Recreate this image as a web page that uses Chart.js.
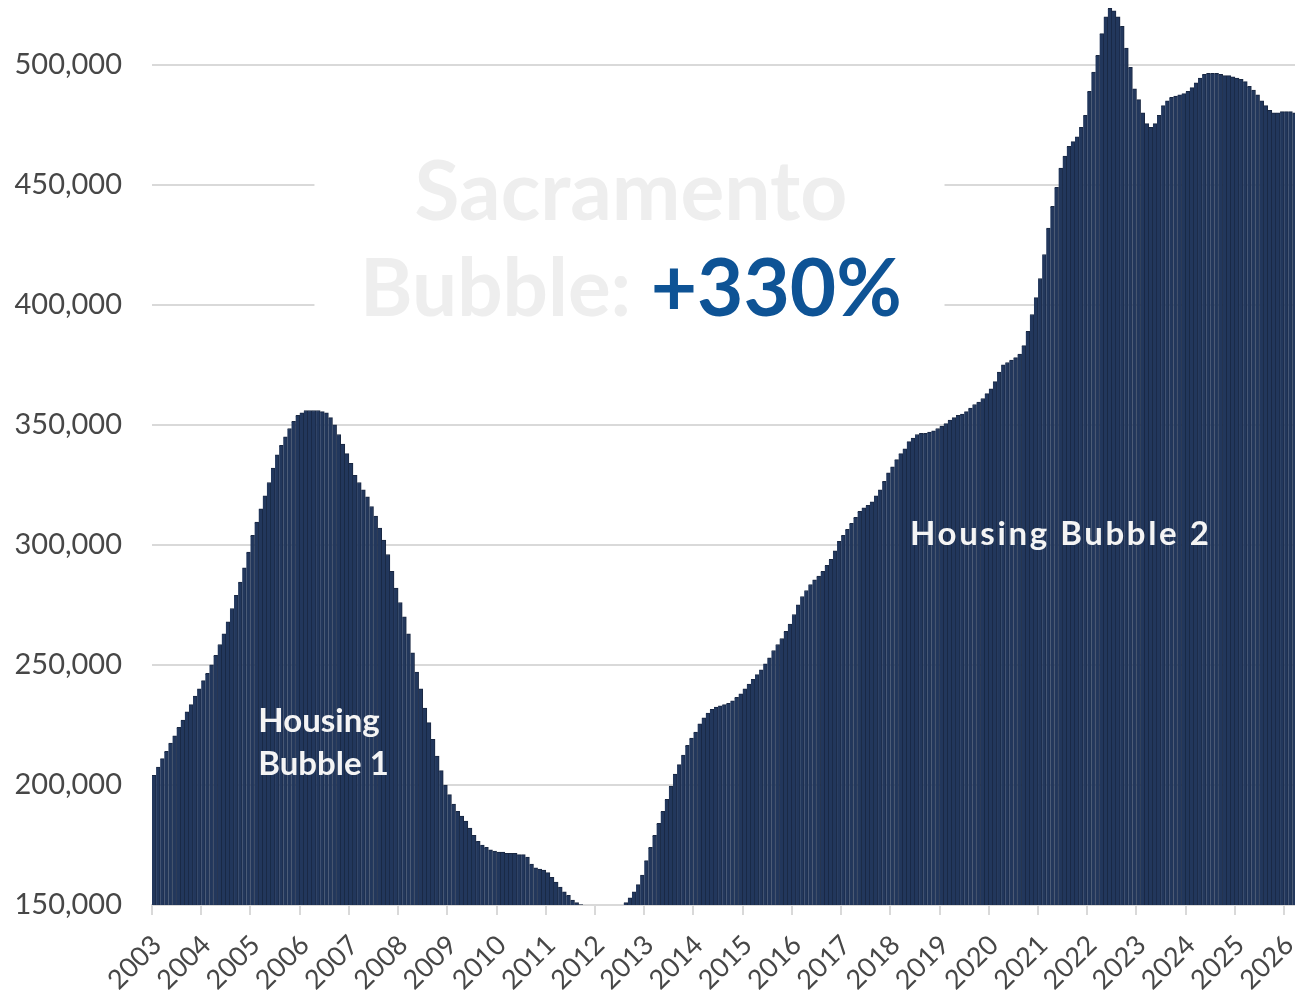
<!DOCTYPE html>
<html>
<head>
<meta charset="utf-8">
<title>Sacramento Housing Bubble</title>
<script src="https://cdn.jsdelivr.net/npm/chart.js@4.4.1/dist/chart.umd.min.js"></script>
<style>
  html, body { margin: 0; padding: 0; background: #ffffff; }
  #wrap { position: relative; width: 1295px; height: 998px; }
</style>
</head>
<body>
<div id="wrap"><canvas id="bubbleChart"></canvas></div>
<script>
// monthly median price, in thousands of dollars, starting Jan 2003
const firstYear = 2003;
const yearLabels = [2003, 2004, 2005, 2006, 2007, 2008, 2009, 2010, 2011, 2012, 2013, 2014,
    2015, 2016, 2017, 2018, 2019, 2020, 2021, 2022, 2023, 2024, 2025, 2026];
const priceTicks = [150000, 200000, 250000, 300000, 350000, 400000, 450000, 500000];

// 2003 - 2008
const bubble1Prices = [
    204, 207.5, 211, 214, 217.5, 220.5, 224, 227, 230.5, 233.5, 237, 240,
    243.5, 246.5, 250, 254, 258.5, 263, 268, 273.5, 279, 284.5, 290.5, 297,
    304, 309.5, 315, 320.5, 326, 332, 337.5, 341.5, 345, 348.5, 351.5, 354,
    355, 356, 356, 356, 356, 355.5, 355, 353, 350, 346, 342, 338,
    334, 329, 326, 323, 320, 316, 312, 307, 302, 296, 289, 282,
    276, 270, 263, 255, 247, 240, 232, 226, 219, 212, 206, 200
];
// 2009 - 2012
const bustPrices = [
    196, 192, 189, 187, 185, 182, 179, 176.5, 175, 174, 173, 172.5,
    172, 172, 171.5, 171.5, 171.5, 171, 171, 170, 167, 165.5, 165, 164.5,
    163.5, 161.5, 159.5, 157.5, 155.5, 154, 152, 151, 150.2, 149, 148, 147,
    146, 145, 144.5, 144.5, 145, 146.5, 148.5, 151, 153, 155.5, 158.5, 162.5
];
// 2013 - 2019
const recoveryPrices = [
    168.5, 174, 179, 184, 189, 194, 199.5, 204.5, 208.5, 212.5, 216.5, 219.5,
    222, 225.5, 228, 230, 231.5, 232.5, 233, 233.5, 234, 235, 236.5, 238,
    240, 242, 244, 246, 248, 250.5, 253, 256, 258.5, 261, 264, 267,
    271, 275, 278.5, 281, 283.5, 285.5, 287, 289, 291.5, 294, 297.5, 301.5,
    304, 306.5, 309, 311.5, 314, 315.5, 316.5, 318, 320.5, 323, 326.5, 330,
    332.5, 335.5, 338, 340, 343, 344.5, 346, 346.5, 346.5, 347, 347.5, 348.5,
    349.5, 350.5, 352, 353, 354, 354.5, 355.5, 357, 358.5, 359.5, 361, 363
];
// 2020 - Mar 2026
const bubble2Prices = [
    365, 368, 372, 375, 376, 377, 378, 379.5, 383, 389, 396, 403,
    411, 421, 432, 441, 449, 457, 462, 466, 468, 470, 474, 479,
    489, 497, 504, 513, 520, 523.5, 522.5, 520, 516, 507, 499, 490,
    485.5, 480, 475.5, 474, 475.5, 479, 483, 485, 486.5, 487, 487.5, 488,
    489, 490.5, 492.5, 494.5, 496, 496.5, 496.5, 496.5, 496, 495.5, 495.5, 495,
    494.5, 494, 493, 491, 489.5, 487.5, 485, 483, 481, 480, 480, 480.5,
    480.5, 480.5, 480
];

const headline = 'Sacramento';
const headlineLead = 'Bubble: ';
const headlineGain = '+330%';
const bubble1Text = ['Housing', 'Bubble 1'];
const bubble2Text = 'Housing Bubble 2';

const monthlyPrices = [].concat(bubble1Prices, bustPrices, recoveryPrices, bubble2Prices);
const points = monthlyPrices.map((p, i) => ({ x: firstYear + (i + 0.5) / 12, y: p * 1000 }));

const axisColor = '#474747';
const gridColor = '#d9d9d9';

// headline box and the two bubble labels
const bubbleNotes = {
    id: 'bubbleNotes',
    beforeDatasetsDraw(chart) {
        const { ctx, scales: { x, y } } = chart;
        const l = x.getPixelForValue(2006.3), r = x.getPixelForValue(2019.1);
        const t = y.getPixelForValue(469000), b = y.getPixelForValue(387000);
        ctx.save();
        ctx.fillStyle = '#ffffff';
        ctx.fillRect(l, t, r - l, b - t);
        ctx.restore();
    },
    afterDatasetsDraw(chart) {
        const { ctx, scales: { x, y } } = chart;
        ctx.save();
        const cx = x.getPixelForValue(2012.73);

        ctx.font = 'bold 82px Lato';
        ctx.textBaseline = 'alphabetic';
        ctx.textAlign = 'center';
        ctx.fillStyle = '#eeeeee';
        ctx.fillText(headline, cx, y.getPixelForValue(435400));

        ctx.font = 'bold 80px Lato';
        const wLead = ctx.measureText(headlineLead).width;
        const wGain = ctx.measureText(headlineGain).width;
        const start = cx - (wLead + wGain) / 2;
        const base2 = y.getPixelForValue(395400);
        ctx.textAlign = 'left';
        ctx.fillText(headlineLead, start, base2);
        ctx.fillStyle = '#0e5395';
        ctx.fillText(headlineGain, start + wLead, base2);

        ctx.font = 'bold 33px Lato';
        ctx.fillStyle = '#f4f4f4';
        const lx = x.getPixelForValue(2005.16);
        ctx.fillText(bubble1Text[0], lx, y.getPixelForValue(222100));
        ctx.fillText(bubble1Text[1], lx, y.getPixelForValue(204200));
        ctx.letterSpacing = '2.6px';
        ctx.fillText(bubble2Text, x.getPixelForValue(2018.4), y.getPixelForValue(300000));
        ctx.restore();
    }
};

const ctx = document.getElementById('bubbleChart').getContext('2d');
const bubbleChart = new Chart(ctx, {
    type: 'bar',
    data: {
        datasets: [{
            data: points,
            backgroundColor: '#22375c',
            borderColor: '#192741',
            borderWidth: { top: 1, right: 1, left: 0, bottom: 0 },
            barPercentage: 1,
            categoryPercentage: 1
        }]
    },
    options: {
        responsive: true,
        maintainAspectRatio: false,
        animation: false,
        layout: { padding: 0 },
        plugins: {
            legend: { display: false },
            tooltip: { enabled: false }
        },
        scales: {
            x: {
                type: 'linear',
                min: 2003,
                max: 2026.22,
                offset: false,
                afterBuildTicks: s => { s.ticks = yearLabels.map(v => ({ value: v })); },
                afterFit: s => { s.height = 93; s.paddingLeft = 0; s.paddingRight = 0; },
                ticks: {
                    autoSkip: false,
                    maxRotation: 45,
                    minRotation: 45,
                    padding: 14,
                    labelOffset: 5,
                    font: { family: 'Lato', size: 27 },
                    color: axisColor,
                    callback: v => String(v)
                },
                grid: { drawOnChartArea: false, drawTicks: true, tickLength: 10, color: gridColor, lineWidth: 2, offset: false },
                border: { display: true, color: gridColor, width: 2 }
            },
            y: {
                min: 150000,
                max: 527000,
                afterBuildTicks: s => { s.ticks = priceTicks.map(v => ({ value: v })); },
                afterFit: s => { s.width = 152; s.paddingTop = 0; s.paddingBottom = 0; },
                ticks: {
                    padding: 30,
                    font: { family: 'Lato', size: 29 },
                    color: axisColor,
                    callback: v => v.toLocaleString('en-US')
                },
                grid: { color: gridColor, lineWidth: 2, drawTicks: false },
                border: { display: false }
            }
        }
    },
    plugins: [bubbleNotes]
});
</script>
</body>
</html>
